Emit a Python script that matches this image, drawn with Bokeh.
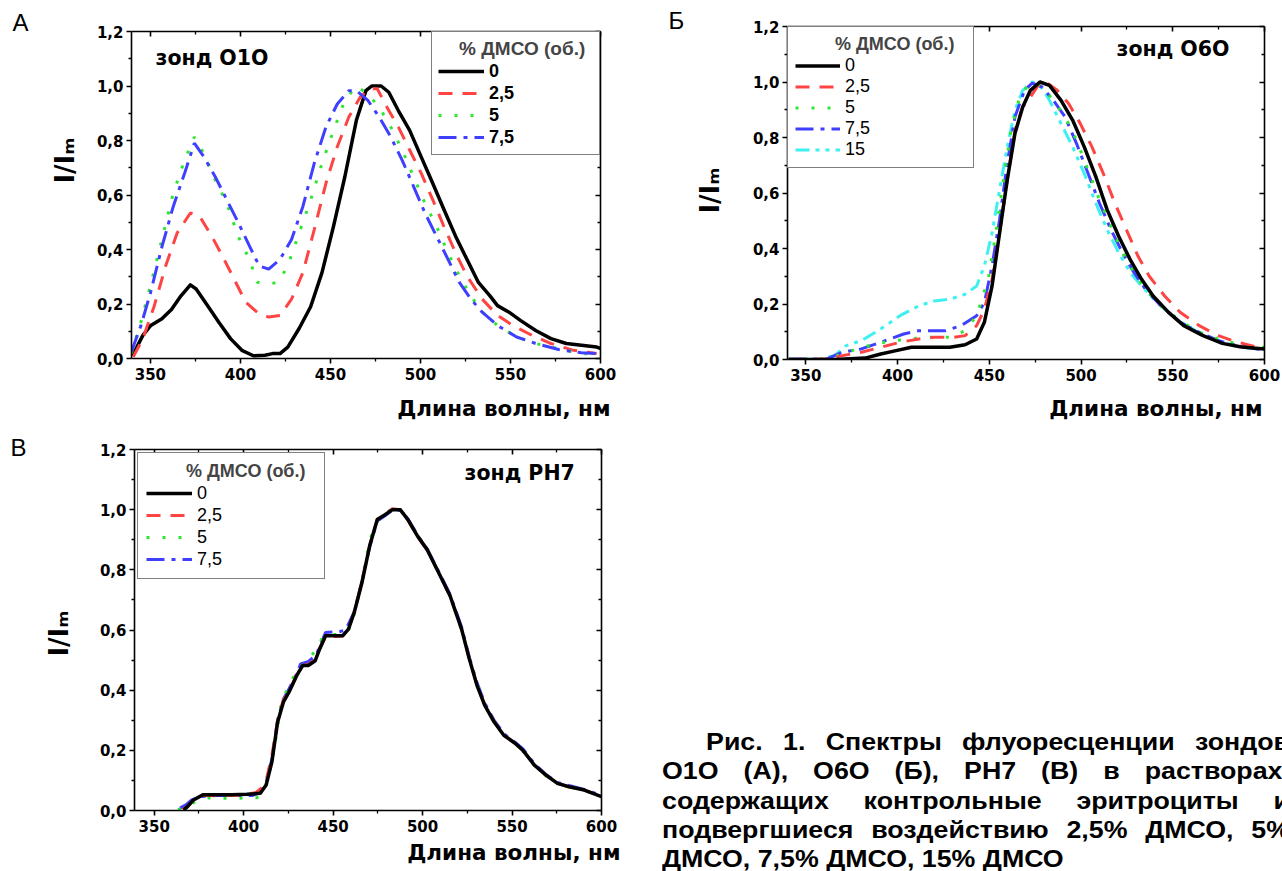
from bokeh.plotting import figure
from bokeh.models import (Range1d, LinearAxis, FixedTicker, CustomJSTickFormatter, CustomLabelingPolicy,
                          Legend, LegendItem, Label, Div, Title)
from bokeh.layouts import row, column
from bokeh.embed import file_html
from bokeh.resources import INLINE

FONT = "Liberation Sans"
HEAVY = "DejaVu Sans"

# ---------------- data ----------------
X_TICKS = [350, 400, 450, 500, 550, 600]
X_MINOR = [375, 425, 475, 525, 575]
Y_TICKS = [0.0, 0.2, 0.4, 0.6, 0.8, 1.0, 1.2]
Y_MINOR = [0.1, 0.3, 0.5, 0.7, 0.9, 1.1]

LEGEND_TITLE = "% ДМСО (об.)"
LABELS_ABV = ["0", "2,5", "5", "7,5"]
LABELS_B = ["0", "2,5", "5", "7,5", "15"]
X_TITLE = "Длина волны, нм"
Y_TITLE = "I/Iₘ"
PROBES = ["зонд O1O", "зонд O6O", "зонд PH7"]
PANEL_LETTERS = ["А", "Б", "В"]

# Panel A (probe O1O)
a0_x = [340, 345.8, 350, 356.4, 361.7, 367, 372.2, 375.4, 381.8, 388, 394.5, 400.8, 407.2, 413.6, 417.8, 422,
        426.3, 432.6, 439, 445.3, 451.7, 458, 464.4, 469.7, 472.9, 478.2, 482.4, 487.7, 494, 500.4, 506.8,
        513.1, 519.5, 525.8, 532.2, 538.6, 542.8, 549.2, 555.5, 564, 572.5, 581, 589.4, 597.9, 601]
a0_y = [0.01, 0.085, 0.12, 0.146, 0.18, 0.23, 0.27, 0.255, 0.194, 0.133, 0.073, 0.03, 0.01, 0.012, 0.018, 0.018,
        0.042, 0.11, 0.19, 0.315, 0.485, 0.667, 0.874, 0.983, 1.0, 1.0, 0.977, 0.91, 0.837, 0.74, 0.643,
        0.546, 0.449, 0.364, 0.279, 0.23, 0.194, 0.17, 0.14, 0.103, 0.073, 0.055, 0.049, 0.042, 0.034]
a1_x = [340.5, 345.8, 352, 358.5, 364.8, 372.2, 377.5, 384, 390, 396.6, 403, 409.3, 415.7, 422, 428.4, 434.7,
        441, 447.5, 453.8, 460.2, 466.5, 471.8, 476, 481.4, 487.7, 494, 500.4, 506.8, 513, 519.5, 525.8,
        534.3, 542.8, 551.3, 561.9, 572.5, 585, 597.9]
a1_y = [0.006, 0.073, 0.19, 0.34, 0.46, 0.534, 0.52, 0.45, 0.376, 0.29, 0.206, 0.17, 0.152, 0.158, 0.218, 0.315,
        0.473, 0.643, 0.777, 0.886, 0.959, 0.99, 0.99, 0.922, 0.85, 0.765, 0.68, 0.583, 0.485, 0.388, 0.303,
        0.218, 0.158, 0.121, 0.085, 0.055, 0.03, 0.018]
a2_x = [339.4, 344.7, 350, 356.4, 362.7, 369, 374.4, 379.7, 386, 392.4, 398.7, 405, 409.3, 415.7, 421, 426.3,
        432.6, 439, 445.3, 451.7, 458, 464.4, 470.8, 477.1, 483.5, 489.8, 496.2, 502.5, 508.9, 515.3, 521.6,
        528, 534.3, 542.8, 553.4, 564, 576.7, 589.4, 600]
a2_y = [0.018, 0.133, 0.267, 0.437, 0.607, 0.728, 0.813, 0.752, 0.655, 0.57, 0.449, 0.364, 0.28, 0.273, 0.28, 0.34,
        0.46, 0.582, 0.716, 0.837, 0.947, 1.0, 0.97, 0.922, 0.85, 0.765, 0.667, 0.57, 0.485, 0.388, 0.303,
        0.23, 0.17, 0.121, 0.079, 0.055, 0.036, 0.018, 0.015]
a3_x = [339.4, 344.7, 350, 356.4, 362.7, 369, 374.4, 379.7, 386, 392.4, 398.7, 405, 410.4, 415.7, 422, 428.4,
        434.7, 441, 447.5, 453.8, 460.2, 464.4, 470.8, 477.1, 483.5, 489.8, 496.2, 502.5, 508.9, 515.3, 521.6,
        528, 534.3, 542.8, 553.4, 564, 576.7, 589.4, 606]
a3_y = [0.024, 0.12, 0.24, 0.41, 0.558, 0.68, 0.79, 0.74, 0.667, 0.583, 0.5, 0.413, 0.34, 0.328, 0.364, 0.437,
        0.558, 0.716, 0.85, 0.934, 0.983, 0.983, 0.947, 0.886, 0.813, 0.728, 0.631, 0.534, 0.449, 0.364, 0.279,
        0.218, 0.17, 0.121, 0.079, 0.055, 0.033, 0.021, 0.016]

# Panel B (probe O6O)
b0_x = [340.6, 365.7, 382.4, 390.8, 399.2, 407.5, 418, 428.5, 436.8, 443.1, 447.3, 451.5, 455.6, 459.8, 464,
        468.2, 472.4, 477.6, 482.8, 489.1, 495.4, 501.7, 508, 514.2, 520.5, 526.8, 533, 539.3, 547.7, 556,
        566.5, 577, 587.4, 600]
b0_y = [0.0, 0.0, 0.005, 0.02, 0.032, 0.044, 0.044, 0.044, 0.053, 0.074, 0.134, 0.265, 0.456, 0.648, 0.815,
        0.91, 0.97, 1.0, 0.988, 0.934, 0.863, 0.767, 0.66, 0.54, 0.444, 0.36, 0.289, 0.229, 0.17, 0.122,
        0.086, 0.058, 0.045, 0.038]
b1_x = [340.6, 361.5, 369.9, 380.3, 390.8, 401.3, 411.7, 420, 430.5, 436.8, 443.1, 447.3, 451.5, 455.6, 459.8,
        464, 468.2, 472.4, 476.6, 480.8, 487, 493.3, 499.6, 505.9, 512.1, 518.4, 524.7, 531, 537.2, 545.6,
        554, 564.4, 574.9, 585.4, 595.8]
b1_y = [0.0, 0.002, 0.014, 0.026, 0.044, 0.062, 0.074, 0.08, 0.08, 0.086, 0.122, 0.18, 0.289, 0.456, 0.648,
        0.827, 0.91, 0.946, 0.988, 1.0, 0.97, 0.922, 0.85, 0.767, 0.671, 0.564, 0.468, 0.373, 0.3, 0.229,
        0.17, 0.122, 0.086, 0.062, 0.045]
b2_x = [340.6, 361.5, 369.9, 380.3, 392.9, 405.4, 415.9, 428.5, 436.8, 443.1, 449.4, 453.6, 457.7, 461.9, 466.1,
        470.3, 473.4, 478.7, 484.9, 491.2, 497.5, 503.8, 510, 516.3, 522.6, 528.9, 535.1, 543.5, 554, 564.4,
        574.9, 585.4, 595.8, 605]
b2_y = [0.002, 0.002, 0.02, 0.044, 0.062, 0.074, 0.08, 0.08, 0.104, 0.158, 0.289, 0.456, 0.648, 0.827, 0.934,
        0.982, 1.0, 0.982, 0.934, 0.875, 0.791, 0.683, 0.576, 0.48, 0.385, 0.313, 0.253, 0.194, 0.14, 0.098,
        0.074, 0.056, 0.044, 0.044]
b3_x = [340.6, 361.5, 369.9, 380.3, 390.8, 403.3, 411.7, 426.2, 434.7, 443.1, 447.3, 451.5, 455.6, 459.8, 464,
        469.2, 473.4, 478.7, 484.9, 491.2, 497.5, 503.8, 510, 516.3, 522.6, 528.9, 535.1, 543.5, 554, 564.4,
        574.9, 585.4, 595.8, 605]
b3_y = [0.002, 0.002, 0.026, 0.038, 0.062, 0.092, 0.104, 0.104, 0.122, 0.158, 0.205, 0.337, 0.504, 0.707, 0.875,
        0.97, 0.996, 0.982, 0.934, 0.875, 0.779, 0.671, 0.564, 0.468, 0.385, 0.313, 0.253, 0.194, 0.134, 0.098,
        0.068, 0.05, 0.038, 0.032]
b4_x = [340.6, 357.3, 365.7, 372, 380.3, 390.8, 401.3, 411.7, 420, 428.5, 436.8, 443.1, 447.3, 451.5, 455.6,
        459.8, 464, 468.2, 473.4, 477.6, 482.8, 489.1, 495.4, 501.7, 508, 514.2, 520.5, 526.8, 533, 541.4,
        551.9, 562.3, 572.8, 583.3, 593.7]
b4_y = [0.0, 0.002, 0.014, 0.05, 0.068, 0.11, 0.158, 0.194, 0.211, 0.217, 0.235, 0.265, 0.337, 0.456, 0.612,
        0.767, 0.898, 0.97, 1.0, 0.988, 0.934, 0.85, 0.767, 0.671, 0.564, 0.468, 0.385, 0.313, 0.265, 0.205,
        0.146, 0.104, 0.074, 0.05, 0.038]

# Panel V (probe PH7)
c0_x = [366.5, 368.6, 371.9, 377.2, 384.7, 393.3, 401.8, 409.3, 412.6, 415.8, 419, 422.2, 425.4, 429.7, 433,
        436.1, 440, 442.5, 445.8, 451.1, 455.4, 458.6, 461.8, 466.1, 470.4, 474.7, 479, 483.2, 487.5, 491.8,
        497.2, 502.5, 509, 515.4, 521.8, 526.1, 530.4, 534.7, 540, 545.4, 551.8, 556.1, 562.5, 568.9, 575.4,
        581.8, 590.4, 600]
c0_y = [0.002, 0.013, 0.035, 0.052, 0.052, 0.052, 0.054, 0.057, 0.085, 0.162, 0.294, 0.36, 0.394, 0.449, 0.482,
        0.482, 0.498, 0.537, 0.581, 0.581, 0.581, 0.603, 0.658, 0.757, 0.879, 0.967, 0.983, 1.0, 1.0, 0.967,
        0.912, 0.868, 0.79, 0.713, 0.603, 0.504, 0.416, 0.35, 0.294, 0.25, 0.223, 0.2, 0.151, 0.118, 0.09,
        0.079, 0.068, 0.046]
c1_x = [366, 369, 372, 377, 385, 393, 401, 407, 410, 413, 416, 419, 422, 425.4, 429.7, 433, 436, 440, 442.5,
        445.8, 451, 455.4, 458.6, 461.8, 466, 470.4, 474.7, 479, 483.2, 487.5, 491.8, 497.2, 502.5, 509, 515.4,
        521.8, 526.1, 530.4, 534.7, 540, 545.4, 551.8, 556.1, 562.5, 568.9, 575.4, 581.8, 590.4, 600]
c1_y = [0.003, 0.015, 0.035, 0.05, 0.05, 0.05, 0.053, 0.06, 0.075, 0.11, 0.19, 0.3, 0.365, 0.398, 0.452, 0.482,
        0.485, 0.5, 0.54, 0.578, 0.578, 0.58, 0.605, 0.66, 0.76, 0.88, 0.968, 0.985, 1.003, 1.0, 0.965, 0.91,
        0.866, 0.792, 0.712, 0.603, 0.506, 0.418, 0.352, 0.296, 0.252, 0.222, 0.2, 0.15, 0.118, 0.09, 0.079,
        0.068, 0.047]
c2_x = [363.3, 368, 375, 380, 386.8, 397.6, 408.3, 411, 413.6, 416.8, 421.1, 425.4, 430.8, 435, 439.3, 444.7,
        451, 455, 459, 462, 466, 470.5, 475, 479, 483, 487.5, 492, 497, 502.5, 509, 515.4, 521.8, 526, 530.4,
        535, 540, 545.4, 551.8, 556, 562.5, 569, 575.4, 582, 590.4, 600]
c2_y = [0.002, 0.015, 0.035, 0.042, 0.041, 0.041, 0.043, 0.06, 0.107, 0.195, 0.36, 0.416, 0.476, 0.49, 0.526,
        0.581, 0.585, 0.585, 0.605, 0.655, 0.76, 0.9, 0.965, 0.985, 1.005, 0.998, 0.968, 0.915, 0.868, 0.79,
        0.715, 0.6, 0.51, 0.42, 0.348, 0.292, 0.25, 0.223, 0.198, 0.15, 0.115, 0.09, 0.078, 0.068, 0.046]
c3_x = [364.4, 368, 371, 376.1, 385, 395, 405, 409.5, 412.5, 415.8, 419, 422.2, 425.4, 429.7, 431.8, 436,
        440.4, 445.8, 453.3, 457, 461.8, 466, 470.4, 474.7, 479, 483.2, 487.5, 491.8, 497.2, 502.5, 509, 515.4,
        521.8, 526.1, 530.4, 534.7, 540, 545.4, 551.8, 556.1, 562.5, 568.9, 575.4, 581.8, 590.4, 600, 610.7]
c3_y = [0.008, 0.02, 0.035, 0.046, 0.05, 0.05, 0.05, 0.06, 0.09, 0.17, 0.3, 0.37, 0.405, 0.455, 0.487, 0.495,
        0.515, 0.592, 0.594, 0.6, 0.66, 0.758, 0.875, 0.962, 0.98, 0.998, 0.998, 0.97, 0.915, 0.87, 0.795,
        0.718, 0.61, 0.51, 0.425, 0.358, 0.3, 0.255, 0.226, 0.205, 0.155, 0.12, 0.093, 0.083, 0.07, 0.05, 0.04]

CAPTION_LINES = [
    "Рис. 1. Спектры флуоресценции зондов",
    "O1O (А), O6O (Б), PH7 (В) в растворах,",
    "содержащих контрольные эритроциты и",
    "подвергшиеся воздействию 2,5% ДМСО, 5%",
    "ДМСО, 7,5% ДМСО, 15% ДМСО",
]

# ---------------- styles ----------------
STY = {
    "0": dict(line_color="black", line_width=3.5, line_dash="solid", line_join="round"),
    "2,5": dict(line_color="#ff4444", line_width=3, line_dash="14 10"),
    "5": dict(line_color="#2ee62e", line_width=3, line_dash="3 13"),
    "7,5": dict(line_color="#3f3fff", line_width=3, line_dash="18 7 4 7"),
    "15": dict(line_color="#3ff0f0", line_width=3, line_dash="14 6 4 6 4 6"),
}

HIDE = "return new Set()"
NBSP = "\u00a0"


def make_fig(w, h, left, right, top, bottom, x0, x1):
    p = figure(width=w, height=h, x_range=Range1d(x0, x1), y_range=Range1d(0, 1.2),
               output_backend="svg", toolbar_location=None,
               min_border_left=left, min_border_right=right,
               min_border_top=top, min_border_bottom=bottom,
               x_axis_type=None, y_axis_type=None)
    try:
        p.frame_align = False
    except Exception:
        pass
    p.outline_line_color = None
    xt = FixedTicker(ticks=X_TICKS, minor_ticks=X_MINOR)
    yt = FixedTicker(ticks=Y_TICKS, minor_ticks=Y_MINOR)
    common = dict(axis_line_width=1.6, axis_line_color="black",
                  major_tick_line_width=1.6, minor_tick_line_width=1.3,
                  major_tick_line_color="black", minor_tick_line_color="black")
    lab = dict(major_label_text_font=HEAVY, major_label_text_font_style="bold",
               major_label_text_font_size="15px", major_label_text_color="black")
    bx = LinearAxis(ticker=xt, major_tick_out=5, major_tick_in=0, minor_tick_out=3, minor_tick_in=0,
                    major_label_standoff=4, **common, **lab)
    ly = LinearAxis(ticker=yt, major_tick_out=5, major_tick_in=0, minor_tick_out=3, minor_tick_in=0,
                    major_label_standoff=3,
                    formatter=CustomJSTickFormatter(code="return tick.toFixed(1).replace('.', ',');"),
                    **common, **lab)
    tx = LinearAxis(ticker=xt, major_tick_out=0, major_tick_in=5, minor_tick_out=0, minor_tick_in=3,
                    major_label_text_font_size="1px", major_label_standoff=0,
                    major_label_policy=CustomLabelingPolicy(code=HIDE), **common)
    ry = LinearAxis(ticker=yt, major_tick_out=0, major_tick_in=5, minor_tick_out=0, minor_tick_in=3,
                    major_label_text_font_size="1px", major_label_standoff=0,
                    major_label_policy=CustomLabelingPolicy(code=HIDE), **common)
    p.add_layout(bx, "below")
    p.add_layout(ly, "left")
    p.add_layout(tx, "above")
    p.add_layout(ry, "right")
    return p


def add_title(p, side, text, size, style, align, offset, standoff, valign, font=FONT):
    p.add_layout(Title(text=text, align=align, offset=offset, standoff=standoff, vertical_align=valign,
                       text_font=font, text_font_size=f"{size}px", text_font_style=style,
                       text_color="black"), side)


def put(p, fl, fb, px, py, text, size, style="bold", align="left", font=HEAVY):
    p.add_layout(Label(x=px - fl, y=fb - py, x_units="screen", y_units="screen", text=text,
                       text_font=font, text_font_size=f"{size}px", text_font_style=style,
                       text_color="black", text_align=align, text_baseline="middle"))


def add_legend(p, renderers, labels, location, margin, padding, item_h, glyph_w, label_w,
               title_size, label_size, label_style, title_indent):
    items = [LegendItem(label=l, renderers=[r]) for l, r in zip(labels, renderers)]
    leg = Legend(items=items, location=location, margin=margin, padding=padding, spacing=0,
                 glyph_width=glyph_w, glyph_height=item_h, label_height=item_h, label_width=label_w,
                 label_standoff=5, title=NBSP * title_indent + LEGEND_TITLE, title_text_font=FONT,
                 title_text_font_size=f"{title_size}px", title_text_font_style="bold",
                 title_standoff=0, label_text_font=FONT, label_text_font_size=f"{label_size}px",
                 label_text_font_style=label_style, label_text_color="black",
                 border_line_color="black", border_line_width=1.2,
                 background_fill_color="white", background_fill_alpha=1.0)
    p.add_layout(leg)


# ---------------- panel A ----------------
pa = make_fig(648, 435, 131, 48, 31, 74, 339.5, 600)
ra = []
for xs, ys, l in zip([a0_x, a1_x, a2_x, a3_x], [a0_y, a1_y, a2_y, a3_y], LABELS_ABV):
    ra.append(pa.line(xs, ys, **STY[l]))
add_legend(pa, ra, LABELS_ABV, "top_right", 0, 6, 22, 46, 104, 19, 18, "bold", 4)
add_title(pa, "above", PANEL_LETTERS[0], 24, "normal", "left", -119, -16, "bottom")
add_title(pa, "below", X_TITLE, 21.5, "bold", "right", -10, 26, "top", HEAVY)
add_title(pa, "left", Y_TITLE, 26, "bold", "right", 106, 27, "bottom", HEAVY)
put(pa, 131, 361, 155, 60, PROBES[0], 20.5)

# ---------------- panel B ----------------
pb = make_fig(634, 435, 139, 18, 26, 73, 340, 600)
rb = {}
for xs, ys, l in zip([b4_x, b3_x, b2_x, b1_x, b0_x], [b4_y, b3_y, b2_y, b1_y, b0_y],
                     ["15", "7,5", "5", "2,5", "0"]):
    rb[l] = pb.line(xs, ys, **STY[l])
add_legend(pb, [rb[l] for l in LABELS_B], LABELS_B, "top_left", 0, 7, 21, 45, 121, 18, 18, "normal", 8)
add_title(pb, "above", PANEL_LETTERS[1], 24, "normal", "left", -119, -22, "bottom")
add_title(pb, "below", X_TITLE, 21.5, "bold", "right", 2, 25, "top", HEAVY)
add_title(pb, "left", Y_TITLE, 26, "bold", "right", 141, 49, "bottom", HEAVY)
put(pb, 787, 362, 1116, 51, PROBES[1], 20.5)

# ---------------- panel V ----------------
pc = make_fig(648, 436, 134, 47, 14, 58, 339, 600)
rc = {}
for xs, ys, l in zip([c3_x, c2_x, c1_x, c0_x], [c3_y, c2_y, c1_y, c0_y], ["7,5", "5", "2,5", "0"]):
    rc[l] = pc.line(xs, ys, **STY[l])
add_legend(pc, [rc[l] for l in LABELS_ABV], LABELS_ABV, "top_left", 3, 8, 22, 46, 119, 18, 18, "normal", 8)
add_title(pc, "above", PANEL_LETTERS[2], 24, "normal", "left", -124, -30, "bottom")
add_title(pc, "below", X_TITLE, 21.5, "bold", "right", -19, 10, "top", HEAVY)
add_title(pc, "left", Y_TITLE, 26, "bold", "right", 161, 45, "bottom", HEAVY)
put(pc, 134, 813, 464, 475, PROBES[2], 20.5)

# ---------------- caption ----------------
SCALE = 1.115
parts = []
for i, ln in enumerate(CAPTION_LINES):
    words = ln.split(" ")
    if i < len(CAPTION_LINES) - 1:
        st = "display:flex;justify-content:space-between;white-space:nowrap;"
        if i == 0:
            st += f"margin-left:{44 / SCALE:.1f}px;"
        parts.append(f'<div style="{st}">' + "".join(f"<span>{w}</span>" for w in words) + "</div>")
    else:
        parts.append(f'<div style="white-space:nowrap;">{ln}</div>')
cap_html = (f'<div style="width:{628 / SCALE:.1f}px;margin-left:14px;padding-top:292px;'
            f"transform:scaleX({SCALE});transform-origin:0 0;"
            "font-family:'Liberation Sans',Arial,sans-serif;font-weight:bold;"
            'font-size:24px;line-height:29.3px;color:#000;">' + "".join(parts) + "</div>")
cap = Div(text=cap_html, width=634, height=436, margin=0, styles={"overflow": "hidden"})

layout = column(row(column(pa), column(pb), spacing=0), row(column(pc), cap, spacing=0), spacing=0)

with open("out.html", "w") as f:
    f.write(file_html(layout, INLINE))
